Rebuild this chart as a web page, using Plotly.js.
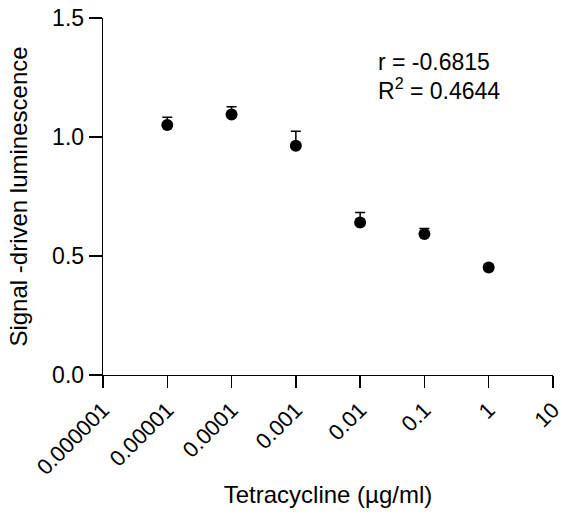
<!DOCTYPE html>
<html>
<head>
<meta charset="utf-8">
<script src="https://cdn.plot.ly/plotly-3.0.1.min.js"></script>
<style>html,body{margin:0;padding:0;background:#fff;}#chart{width:562px;height:521px;}</style>
</head>
<body>
<div id="chart"></div>
<script>
// Data
const concentrations = [0.00001, 0.0001, 0.001, 0.01, 0.1, 1];
const luminescence = [1.050, 1.095, 0.963, 0.641, 0.592, 0.452];
const errorUpper = [0.033, 0.032, 0.061, 0.042, 0.024, 0.010];
const tickValues = [0.000001, 0.00001, 0.0001, 0.001, 0.01, 0.1, 1, 10];
const tickLabels = ["0.000001", "0.00001", "0.0001", "0.001", "0.01", "0.1", "1", "10"];
const yTicks = [0, 0.5, 1.0, 1.5];
const statsLines = ["r = -0.6815", "R<sup>2</sup> = 0.4644"];

const FONT = "Liberation Sans, Arial, sans-serif";

const trace = {
  x: concentrations,
  y: luminescence,
  type: "scatter",
  mode: "markers",
  marker: {color: "#000", size: 12},
  error_y: {
    type: "data",
    symmetric: false,
    array: errorUpper,
    arrayminus: errorUpper.map(() => 0),
    color: "#000",
    thickness: 1.5,
    width: 5
  },
  cliponaxis: false,
  showlegend: false
};

const layout = {
  width: 562,
  height: 521,
  margin: {l: 103, r: 9, t: 18, b: 146},
  paper_bgcolor: "#fff",
  plot_bgcolor: "#fff",
  font: {family: FONT, color: "#000", size: 22},
  xaxis: {
    type: "log",
    range: [-6, 1.0004],
    tickvals: tickValues,
    ticktext: tickLabels,
    tickangle: -45,
    ticks: "outside",
    ticklen: 12,
    tickwidth: 1.3,
    tickcolor: "#000",
    showline: true,
    linecolor: "#000",
    linewidth: 1.3,
    showgrid: false,
    zeroline: false,
    ticklabeloverflow: "allow",
    tickfont: {family: FONT, size: 22, color: "#000"},
    title: {text: "Tetracycline (µg/ml)", font: {family: FONT, size: 24, color: "#000"}, standoff: 7}
  },
  yaxis: {
    range: [0, 1.5],
    tickvals: yTicks,
    tickformat: ".1f",
    ticks: "outside",
    ticklen: 13,
    tickwidth: 1.3,
    tickcolor: "#000",
    showline: true,
    linecolor: "#000",
    linewidth: 1.3,
    showgrid: false,
    zeroline: false,
    tickfont: {family: FONT, size: 23, color: "#000"},
    title: {text: "Signal -driven luminescence", font: {family: FONT, size: 24, color: "#000"}, standoff: 17}
  },
  annotations: [
    {text: statsLines[0], xref: "paper", yref: "paper", x: 0.607, y: 0.878, xanchor: "left", yanchor: "middle", showarrow: false, font: {family: FONT, size: 23, color: "#000"}},
    {text: statsLines[1], xref: "paper", yref: "paper", x: 0.607, y: 0.80, xanchor: "left", yanchor: "middle", showarrow: false, font: {family: FONT, size: 23, color: "#000"}}
  ]
};

Plotly.newPlot("chart", [trace], layout, {displayModeBar: false, staticPlot: true});
</script>
</body>
</html>
